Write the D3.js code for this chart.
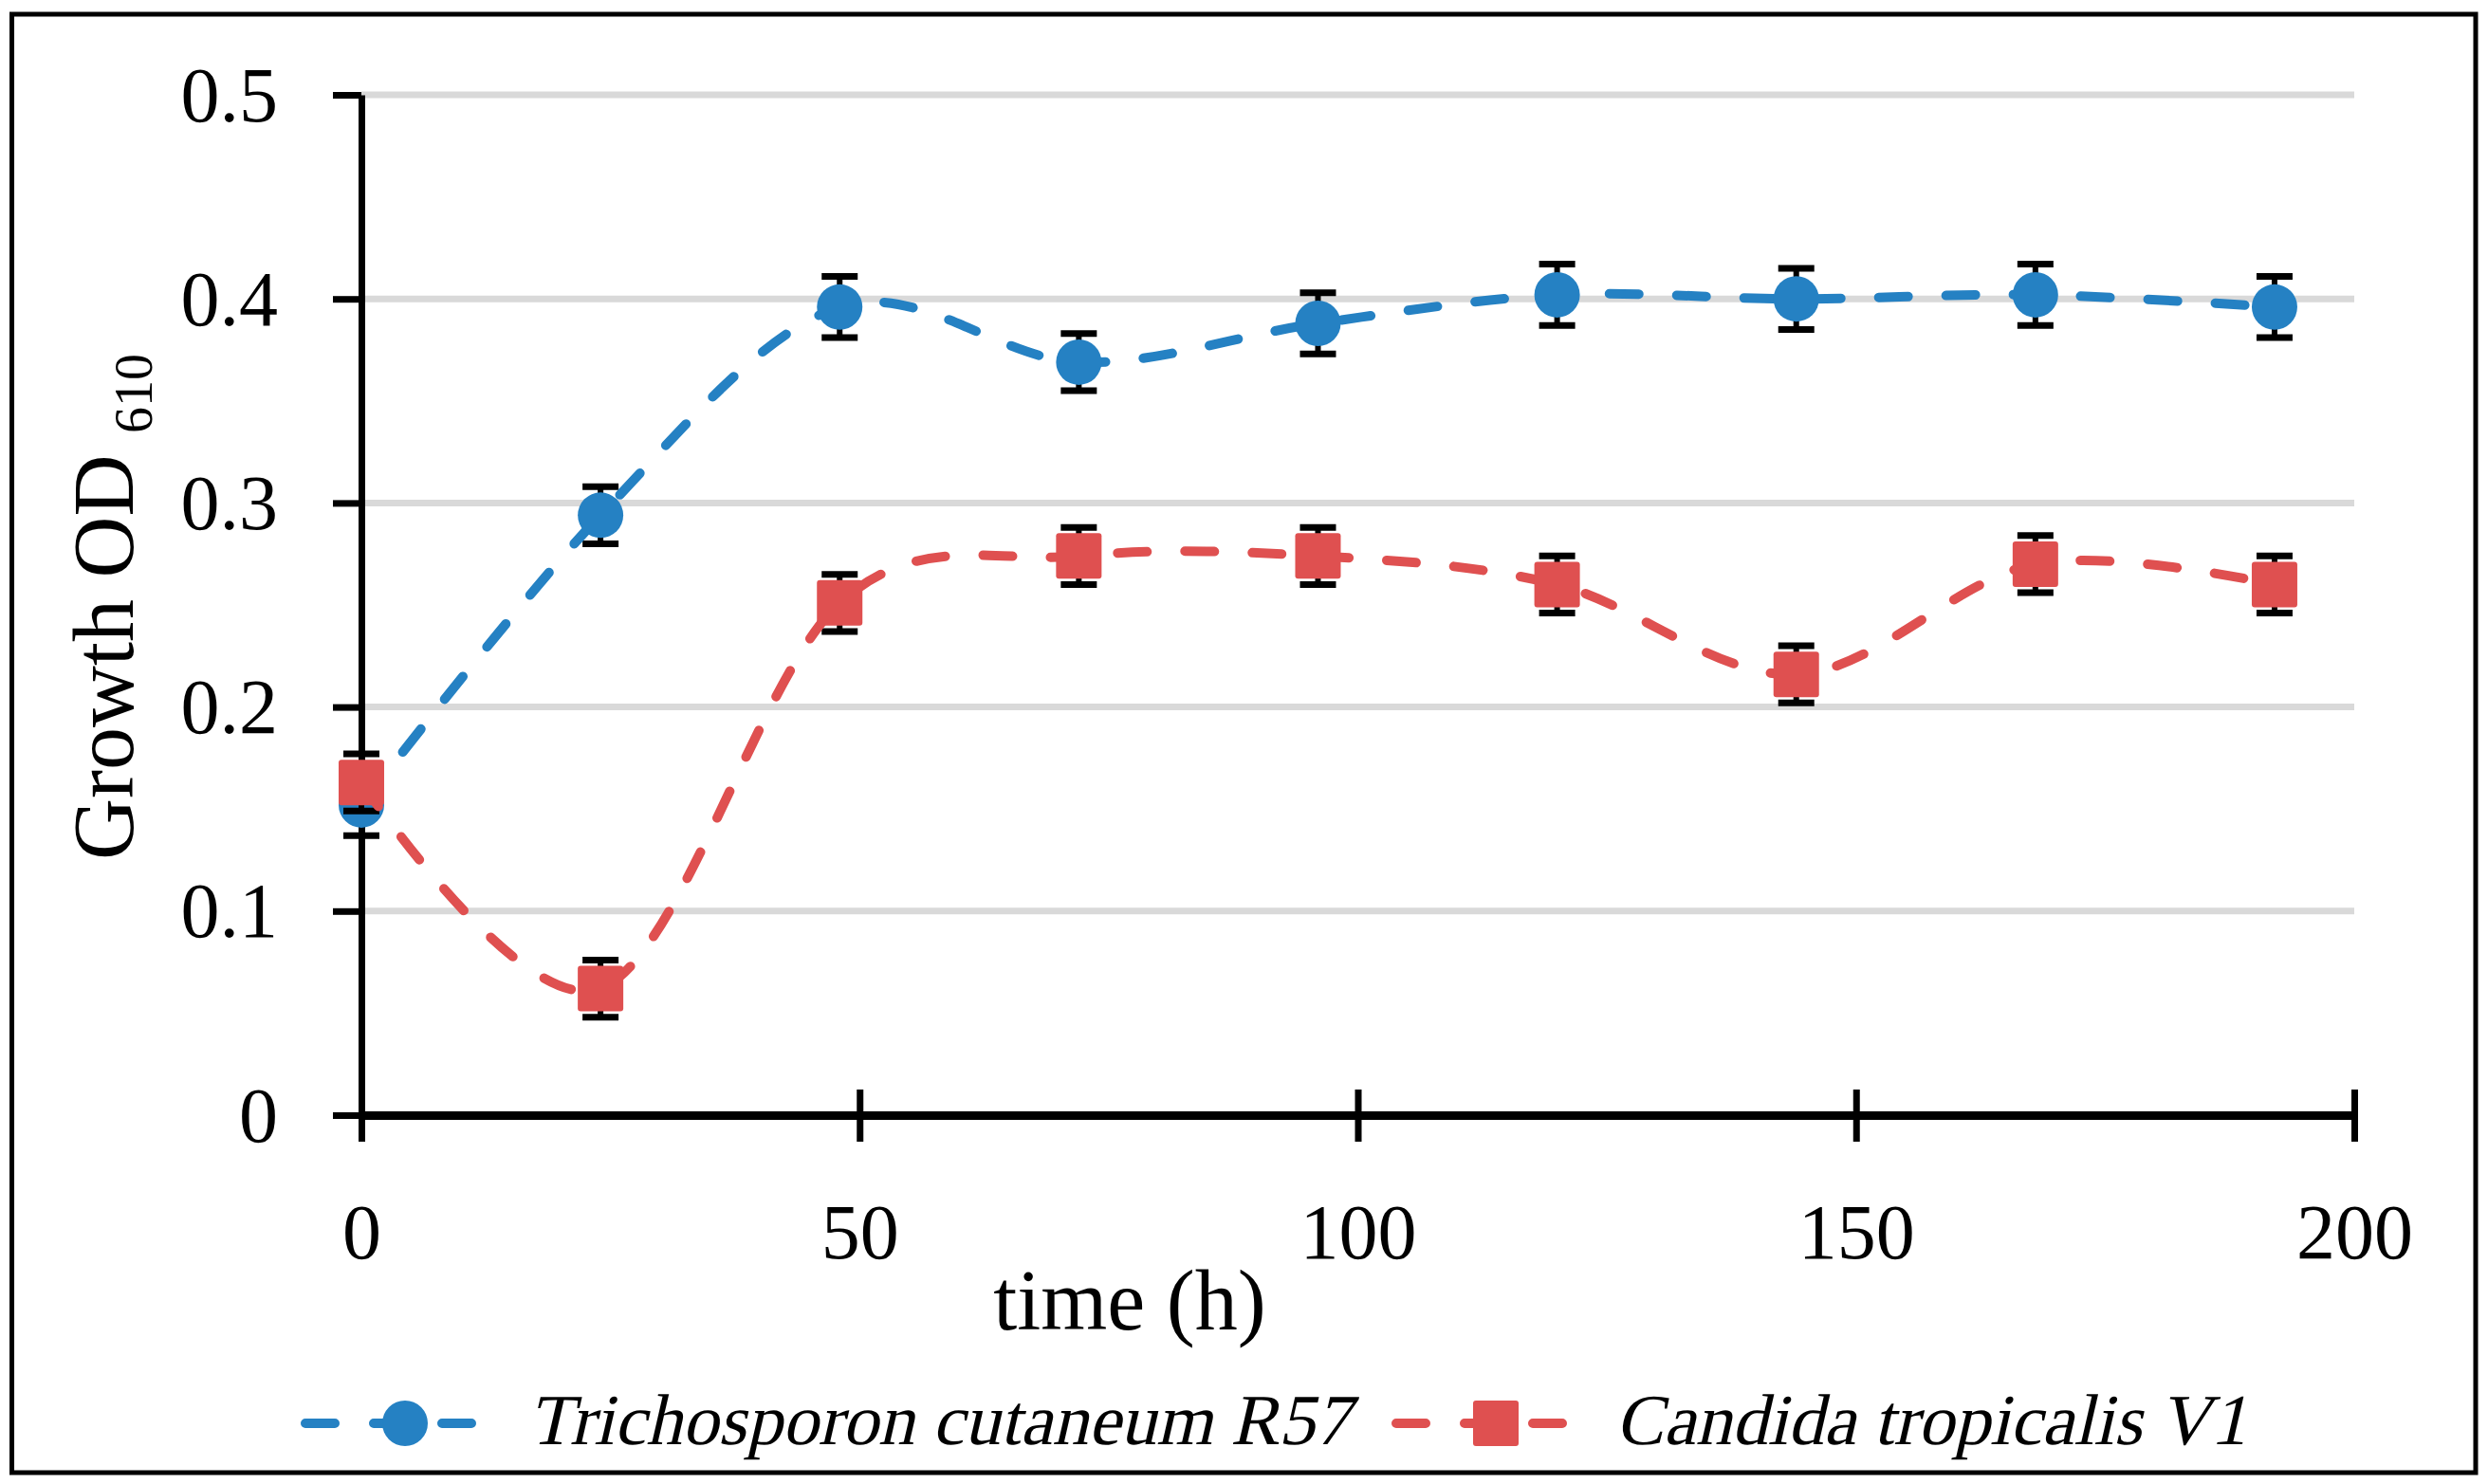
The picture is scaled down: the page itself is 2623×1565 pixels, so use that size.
<!DOCTYPE html>
<html>
<head>
<meta charset="utf-8">
<script src="https://cdn.jsdelivr.net/npm/d3@7"></script>
<style>
  body { margin: 0; background: #fff; }
  text { font-family: "Liberation Serif", serif; fill: #000; }
</style>
</head>
<body>
<div id="chart"></div>
<script>
// time points (h)
var hours = [0, 24, 48, 72, 96, 120, 144, 168, 192];
// Trichosporon cutaneum R57
var trichoOD = [0.152, 0.294, 0.396, 0.369, 0.388, 0.402, 0.400, 0.402, 0.396];
var trichoErr = [0.015, 0.014, 0.015, 0.014, 0.015, 0.015, 0.015, 0.015, 0.015];
// Candida tropicalis V1
var candidaOD = [0.163, 0.062, 0.251, 0.274, 0.274, 0.260, 0.216, 0.270, 0.260];
var candidaErr = [0.014, 0.014, 0.014, 0.014, 0.014, 0.014, 0.014, 0.014, 0.014];

var xTicks = [0, 50, 100, 150, 200];
var yTicks = [0, 0.1, 0.2, 0.3, 0.4, 0.5];
var seriesNames = ["Trichosporon cutaneum R57", "Candida tropicalis V1"];

function draw_chart() {
  "use strict";
  var width = 2623,
      height = 1565;

  var blue = "#2581c3",
      red = "#df5050";

  var svg = d3.select("#chart")
      .append("svg")
      .attr("width", width)
      .attr("height", height);

  // outer frame
  svg.append("rect")
      .attr("x", 12.5).attr("y", 15)
      .attr("width", 2597.5).attr("height", 1538)
      .attr("fill", "none")
      .attr("stroke", "#000")
      .attr("stroke-width", 5);

  var x = d3.scaleLinear().domain([0, 200]).range([381, 2482]);
  var y = d3.scaleLinear().domain([0, 0.5]).range([1176, 100]);

  // grid
  svg.append("g").selectAll("line")
      .data(yTicks.slice(1))
      .enter().append("line")
      .attr("x1", x(0)).attr("x2", x(200))
      .attr("y1", function(d) { return y(d); })
      .attr("y2", function(d) { return y(d); })
      .attr("stroke", "#d9d9d9")
      .attr("stroke-width", 7);

  // y axis
  var yAxis = svg.append("g")
      .attr("transform", "translate(" + x(0) + ",0)")
      .call(d3.axisLeft(y).tickValues(yTicks).tickSize(30).tickSizeOuter(0)
            .tickFormat(function(d) { return d === 0 ? "0" : d3.format(".1f")(d); }));
  yAxis.select(".domain").attr("stroke-width", 7);
  yAxis.selectAll(".tick line").attr("stroke-width", 7);
  yAxis.selectAll(".tick text")
      .attr("x", -88)
      .attr("dy", "0.33em")
      .style("font-size", "82px");

  // x axis
  var xAxis = svg.append("g")
      .attr("transform", "translate(0," + y(0) + ")")
      .call(d3.axisBottom(x).tickValues(xTicks).tickSize(28).tickSizeOuter(0));
  xAxis.select(".domain").attr("stroke-width", 9);
  xAxis.selectAll(".tick line")
      .attr("y1", -27).attr("y2", 28)
      .attr("stroke-width", 7);
  xAxis.selectAll(".tick text")
      .attr("y", 151).attr("dy", 0)
      .style("font-size", "82px");
  svg.selectAll(".domain").attr("stroke", "#000");
  svg.selectAll(".tick line").attr("stroke", "#000");

  // axis titles
  svg.append("text")
      .attr("x", 1191).attr("y", 1402)
      .attr("text-anchor", "middle")
      .style("font-size", "90px")
      .text("time (h)");

  var yTitle = svg.append("text")
      .attr("transform", "translate(140,640) rotate(-90)")
      .attr("text-anchor", "middle")
      .style("font-size", "90px");
  yTitle.append("tspan").text("Growth OD ");
  yTitle.append("tspan").attr("dy", 20).style("font-size", "56px").text("610");

  var line = d3.line()
      .x(function(d) { return x(d.t); })
      .y(function(d) { return y(d.v); })
      .curve(d3.curveCardinal.tension(0));

  function series(vals, errs, color, shape) {
    var data = hours.map(function(t, i) { return {t: t, v: vals[i], e: errs[i]}; });
    var g = svg.append("g");
    // error bars
    var eb = g.append("g").selectAll("g").data(data).enter().append("g");
    eb.append("line")
        .attr("x1", function(d) { return x(d.t); })
        .attr("x2", function(d) { return x(d.t); })
        .attr("y1", function(d) { return y(d.v + d.e); })
        .attr("y2", function(d) { return y(d.v - d.e); })
        .attr("stroke", "#000").attr("stroke-width", 6);
    [1, -1].forEach(function(s) {
      eb.append("line")
          .attr("x1", function(d) { return x(d.t) - 19; })
          .attr("x2", function(d) { return x(d.t) + 19; })
          .attr("y1", function(d) { return y(d.v + s * d.e); })
          .attr("y2", function(d) { return y(d.v + s * d.e); })
          .attr("stroke", "#000").attr("stroke-width", 7);
    });
    g.append("path")
        .datum(data)
        .attr("d", line)
        .attr("fill", "none")
        .attr("stroke", color)
        .attr("stroke-width", 10)
        .attr("stroke-linecap", "round")
        .attr("stroke-dasharray", "31,40");
    if (shape === "circle") {
      g.selectAll("circle").data(data).enter().append("circle")
          .attr("cx", function(d) { return x(d.t); })
          .attr("cy", function(d) { return y(d.v); })
          .attr("r", 24)
          .attr("fill", color);
    } else {
      g.selectAll("rect").data(data).enter().append("rect")
          .attr("x", function(d) { return x(d.t) - 24; })
          .attr("y", function(d) { return y(d.v) - 24; })
          .attr("width", 48).attr("height", 48)
          .attr("rx", 3)
          .attr("fill", color);
    }
  }

  series(trichoOD, trichoErr, blue, "circle");
  series(candidaOD, candidaErr, red, "square");

  // legend
  var legend = [
    {name: seriesNames[0], color: blue, shape: "circle", x0: 317, x1: 504, mx: 427, tx: 557},
    {name: seriesNames[1], color: red, shape: "square", x0: 1467, x1: 1655, mx: 1577, tx: 1703}
  ];
  var ly = 1501;
  var lg = svg.append("g").selectAll("g").data(legend).enter().append("g");
  lg.append("line")
      .attr("x1", function(d) { return d.x0 + 5; })
      .attr("x2", function(d) { return d.x1 - 5; })
      .attr("y1", ly).attr("y2", ly)
      .attr("stroke", function(d) { return d.color; })
      .attr("stroke-width", 10)
      .attr("stroke-linecap", "round")
      .attr("stroke-dasharray", "31,41");
  lg.filter(function(d) { return d.shape === "circle"; })
      .append("circle")
      .attr("cx", function(d) { return d.mx; })
      .attr("cy", ly).attr("r", 24)
      .attr("fill", function(d) { return d.color; });
  lg.filter(function(d) { return d.shape === "square"; })
      .append("rect")
      .attr("x", function(d) { return d.mx - 24; })
      .attr("y", ly - 24)
      .attr("width", 48).attr("height", 48).attr("rx", 3)
      .attr("fill", function(d) { return d.color; });
  // slant the upright serif face
  lg.append("text")
      .attr("transform", function(d) { return "translate(" + d.tx + ",1523) skewX(-13)"; })
      .style("font-family", "'Liberation Serif', 'DejaVu Serif', serif")
      .style("font-style", "normal")
      .style("font-size", "76px")
      .text(function(d) { return d.name; });
}

draw_chart();
</script>
</body>
</html>
